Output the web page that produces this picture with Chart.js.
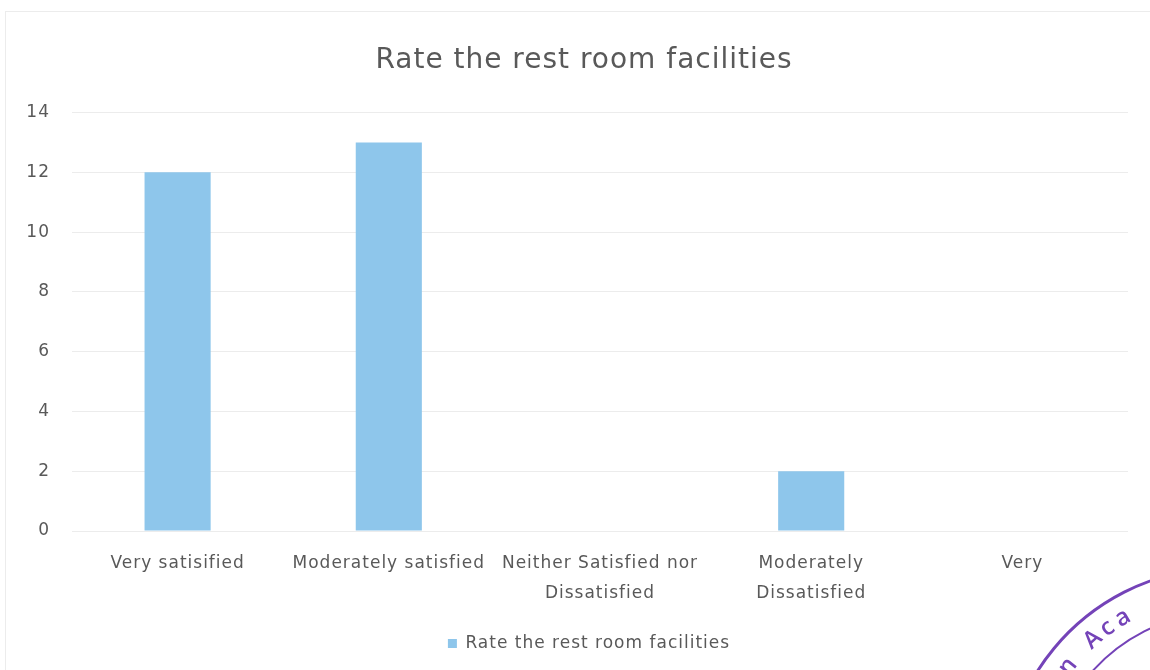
<!DOCTYPE html>
<html>
<head>
<meta charset="utf-8">
<script src="https://cdn.jsdelivr.net/npm/chart.js@4"></script>
<style>
    html, body { margin: 0; padding: 0; background: #fff; }
    #wrap { position: relative; width: 1150px; height: 670px; }
    #frame { position: absolute; left: 5px; top: 11px; width: 1160px; height: 680px; border: 1px solid #ececec; pointer-events: none; }
</style>
</head>
<body>
<div id="wrap">
    <canvas id="chart" width="1150" height="670"></canvas>
    <div id="frame"></div>
</div>
<script>
const categories = [
    'Very satisified',
    'Moderately satisfied',
    ['Neither Satisfied nor', 'Dissatisfied'],
    ['Moderately', 'Dissatisfied'],
    'Very'
];
const values = [12, 13, 0, 2, 0];
const yTicks = [0, 2, 4, 6, 8, 10, 12, 14];
const seriesName = 'Rate the rest room facilities';

const FONT = 'DejaVu Sans';

// the scanned text is a little wider than any installed font
const spacingPlugin = {
    id: 'spacing',
    beforeLayout(chart) { chart.ctx.letterSpacing = '1px'; },
    afterLayout(chart) {
        // title and legend sit a bit right of centre in the original
        chart.titleBlock.left += 20;
        chart.titleBlock.right += 20;
        chart.legend.left += 25;
        chart.legend.right += 25;
    },
    beforeDraw(chart) { chart.ctx.letterSpacing = '1px'; }
};

// faded stamp in the corner of the scan
const stampPlugin = {
    id: 'stamp',
    afterDraw(chart) {
        const ctx = chart.ctx;
        const cx = 1225, cy = 790;
        ctx.save();
        ctx.letterSpacing = '0px';
        ctx.strokeStyle = '#7443b8';
        ctx.lineWidth = 3;
        ctx.beginPath();
        ctx.arc(cx, cy, 222, Math.PI * 1.1, Math.PI * 1.6);
        ctx.stroke();
        ctx.lineWidth = 2;
        ctx.beginPath();
        ctx.arc(cx, cy, 178, Math.PI * 1.1, Math.PI * 1.6);
        ctx.stroke();
        ctx.fillStyle = '#7443b8';
        ctx.font = '600 24px "Open Sans"';
        ctx.textAlign = 'center';
        ctx.textBaseline = 'middle';
        const text = 'n Aca';
        let ang = Math.PI * 1.212;
        for (const ch of text) {
            const x = cx + 200 * Math.cos(ang);
            const y = cy + 200 * Math.sin(ang);
            ctx.save();
            ctx.translate(x, y);
            ctx.rotate(ang + Math.PI / 2);
            ctx.fillText(ch, 0, 0);
            ctx.restore();
            ang += 0.092;
        }
        ctx.restore();
    }
};

const ctx = document.getElementById('chart').getContext('2d');
new Chart(ctx, {
    type: 'bar',
    data: {
        labels: categories,
        datasets: [{
            label: seriesName,
            data: values,
            backgroundColor: '#8ec6eb',
            categoryPercentage: 1,
            barPercentage: 0.313
        }]
    },
    options: {
        responsive: false,
        animation: false,
        layout: { padding: { top: 10, right: 22, bottom: 8, left: 0 } },
        plugins: {
            title: {
                display: true,
                text: 'Rate the rest room facilities',
                color: '#595959',
                font: { family: FONT, size: 28, weight: 'normal' },
                padding: { top: 34, bottom: 35 }
            },
            legend: {
                position: 'bottom',
                labels: {
                    color: '#595959',
                    font: { family: FONT, size: 17 },
                    boxWidth: 9,
                    boxHeight: 9,
                    padding: 10
                }
            },
            tooltip: { enabled: false }
        },
        scales: {
            x: {
                grid: { display: false },
                border: { display: false },
                ticks: {
                    color: '#595959',
                    font: { family: FONT, size: 17, lineHeight: 1.75 },
                    padding: 10,
                    maxRotation: 0,
                    autoSkip: false
                },
                afterFit(scale) { scale.height = 94; }
            },
            y: {
                min: 0,
                max: 14,
                afterBuildTicks(scale) { scale.ticks = yTicks.map(v => ({ value: v })); },
                grid: { color: '#ececec', drawTicks: false },
                border: { display: false },
                ticks: {
                    color: '#595959',
                    font: { family: FONT, size: 17 },
                    padding: 22
                },
                afterFit(scale) { scale.width = 72; }
            }
        }
    },
    plugins: [spacingPlugin, stampPlugin]
});
</script>
</body>
</html>
